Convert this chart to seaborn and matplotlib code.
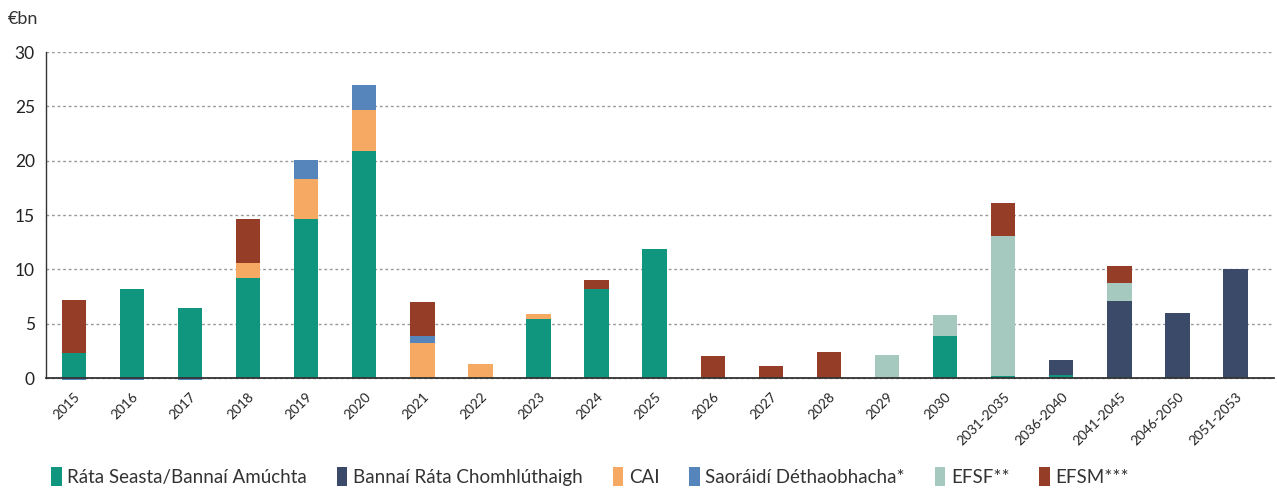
import numpy as np
import pandas as pd
import matplotlib
matplotlib.use("Agg")
import matplotlib.pyplot as plt
from matplotlib.patches import Patch
import seaborn as sns

# Data (€bn)
periods = ["2015", "2016", "2017", "2018", "2019", "2020", "2021", "2022", "2023",
           "2024", "2025", "2026", "2027", "2028", "2029", "2030", "2031-2035",
           "2036-2040", "2041-2045", "2046-2050", "2051-2053"]
fixed_rate = [2.3, 8.2, 6.4, 9.2, 14.6, 20.9, 0, 0, 5.4, 8.2, 11.9, 0, 0, 0, 0, 3.9, 0.2, 0.3, 0.1, 0, 0]
floating_rate = [0, 0, 0, 0, 0, 0, 0, 0, 0, 0, 0, 0, 0, 0, 0, 0, 0, 1.4, 7.0, 6.0, 10.0]
cai = [0, 0, 0, 1.4, 3.7, 3.8, 3.2, 1.3, 0.5, 0, 0, 0, 0, 0, 0, 0, 0, 0, 0, 0, 0]
tax_free = [-0.2, -0.2, -0.2, 0, 1.8, 2.3, 0.7, 0, 0, 0, 0, 0, 0, 0, 0, 0, 0, 0, 0, 0, 0]
efsf = [0, 0, 0, 0, 0, 0, 0, 0, 0, 0, 0, 0, 0, 0, 2.1, 1.9, 12.9, 0, 1.6, 0, 0]
efsm = [4.9, 0, 0, 4.0, 0, 0, 3.1, 0, 0, 0.8, 0, 2.0, 1.1, 2.4, 0, 0, 3.0, 0, 1.6, 0, 0]

series = [
    ("Ráta Seasta/Bannaí Amúchta", fixed_rate, "#10957f"),
    ("Bannaí Ráta Chomhlúthaigh", floating_rate, "#3a4a68"),
    ("CAI", cai, "#f5a962"),
    ("Saoráidí Déthaobhacha*", tax_free, "#5585bb"),
    ("EFSF**", efsf, "#a5c8bf"),
    ("EFSM***", efsm, "#963d27"),
]

sns.set_style("white")
plt.rcParams["font.family"] = ["Lato", "DejaVu Sans"]

fig = plt.figure(figsize=(12.77, 4.88), dpi=100)
ax = fig.add_axes([0.036, 0.212, 0.962, 0.6814])

pos_base = np.zeros(len(periods))
neg_base = np.zeros(len(periods))
for name, vals, col in series:
    vals = np.array(vals, dtype=float)
    bottom = np.where(vals >= 0, pos_base, neg_base)
    df = pd.DataFrame({"period": periods, "value": vals})
    sns.barplot(data=df, x="period", y="value", order=periods, color=col,
                bottom=bottom, width=0.42, linewidth=0, saturation=1, ax=ax)
    pos_base += np.where(vals > 0, vals, 0)
    neg_base += np.where(vals < 0, vals, 0)

ax.set_xlim(-0.48, 20.67)
ax.set_ylim(-0.6, 30)
ax.set_yticks(range(0, 31, 5))
ax.yaxis.grid(True, linestyle=(0, (2, 2)), color="#999999", linewidth=1)
ax.set_axisbelow(True)
ax.set_xlabel("")
ax.set_ylabel("")
for s in ["top", "right"]:
    ax.spines[s].set_visible(False)
ax.spines["left"].set_bounds(0, 30)
ax.spines["bottom"].set_position(("data", 0))
ax.spines["bottom"].set_zorder(5)
ax.spines["left"].set_color("#333333")
ax.spines["bottom"].set_color("#333333")
ax.spines["bottom"].set_linewidth(1.3)
ax.spines["left"].set_linewidth(1.0)
ax.tick_params(axis="y", labelsize=12.5, length=0, pad=8, colors="#222222")
ax.tick_params(axis="x", labelsize=9.8, length=0, pad=9, colors="#222222")
plt.setp(ax.get_xticklabels(), rotation=45, ha="right", rotation_mode="anchor")

fig.text(0.006, 0.962, "€bn", fontsize=13, color="#333333", va="center")

handles = [Patch(facecolor=c, edgecolor="none", label=n) for n, _, c in series]
fig.legend(handles=handles, loc="center left", bbox_to_anchor=(0.027, 0.024),
           ncol=6, frameon=False, fontsize=13.5, handlelength=0.55, handleheight=1.2,
           handletextpad=0.3, columnspacing=1.6, labelcolor="#333333")

fig.savefig("out.png", dpi=100)
